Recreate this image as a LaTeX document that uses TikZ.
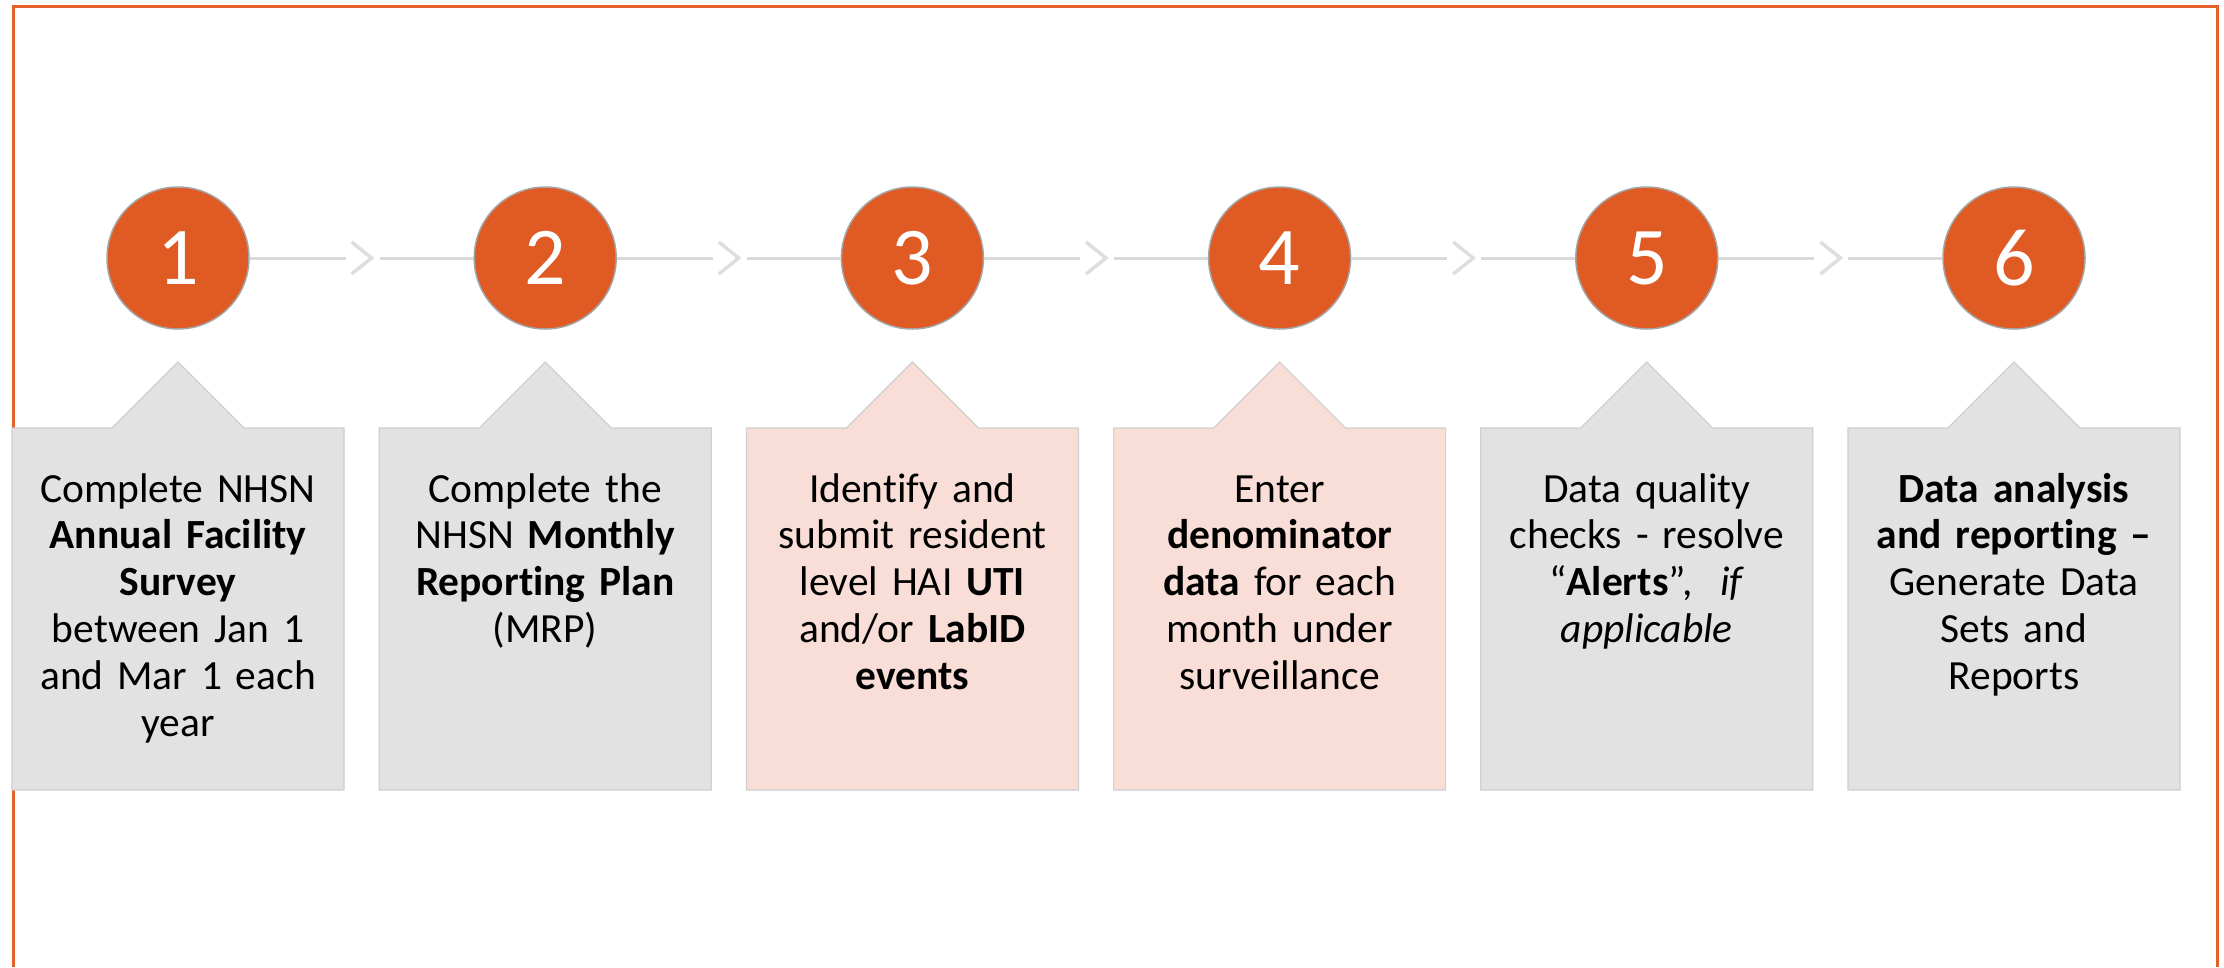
\documentclass[tikz,border=0pt]{standalone}
\usepackage{fontspec}
\setmainfont{Carlito}[Ligatures=NoCommon]
\usetikzlibrary{calc}
\definecolor{frameor}{HTML}{E3602B}
\definecolor{circor}{HTML}{E05A24}
\definecolor{circedge}{HTML}{A5A5A5}
\definecolor{boxgray}{HTML}{E2E2E2}
\definecolor{boxpink}{HTML}{F8DED6}
\definecolor{boxedge}{HTML}{CFCFCF}
\definecolor{linegray}{HTML}{D9D9D9}
\definecolor{chevgray}{HTML}{DEDEDE}
\begin{document}
\begin{tikzpicture}[x=1pt,y=-1pt,
  stepcircle/.style={circle, minimum size=142pt, inner sep=0pt, fill=circor, draw=circedge, line width=1.5pt, text=white, font=\fontsize{82}{82}\selectfont},
  steptext/.style={anchor=base, text width=320pt, align=center, inner sep=0pt, font=\fontsize{41.5}{46.8}\selectfont},
  conn/.style={draw=linegray, line width=3pt},
  chev/.style={draw=chevgray, line width=3.5pt, line join=miter},
  shapebox/.style={draw=boxedge, line width=1.2pt}
]
\useasboundingbox (0,0) rectangle (2224,967);
\draw[frameor, line width=3pt] (13,967) -- (13,6) -- (2217,6) -- (2217,967);

\foreach \i/\x/\f in {1/178/boxgray, 2/545.2/boxgray, 3/912.4/boxpink, 4/1279.6/boxpink, 5/1646.8/boxgray, 6/2014/boxgray} {
  \filldraw[shapebox, fill=\f] (\x-166,428) -- (\x-66,428) -- (\x,362) -- (\x+66,428) -- (\x+166,428) -- (\x+166,790) -- (\x-166,790) -- cycle;
  \node[stepcircle] (c\i) at (\x,258) {\i};
}

\foreach \i/\j in {1/2,2/3,3/4,4/5,5/6} {
  \coordinate (m\i) at ($(c\i)!0.5!(c\j)$);
  \coordinate (la\i) at ([xshift=-16pt]m\i);
  \coordinate (lb\i) at ([xshift=18pt]m\i);
  \draw[conn] (c\i.east) -- (la\i);
  \draw[conn] (lb\i) -- (c\j.west);
  \draw[chev] ([shift={(-10,-16)}]m\i) -- ([shift={(10,0)}]m\i) -- ([shift={(-10,16)}]m\i);
}

\node[steptext] (t1) at (178,502) {Complete NHSN\\\textbf{Annual Facility}\\\textbf{Survey}\\between Jan 1\\and Mar 1 each\\year};
\node[steptext] (t2) at (545.2,502) {Complete the\\NHSN \textbf{Monthly}\\\textbf{Reporting Plan}\\(MRP)};
\node[steptext] (t3) at (912.4,502) {Identify and\\submit resident\\level HAI \textbf{UTI}\\and/or \textbf{LabID}\\\textbf{events}};
\node[steptext] (t4) at (1279.6,502) {Enter\\\textbf{denominator}\\\textbf{data} for each\\month under\\surveillance};
\node[steptext] (t5) at (1646.8,502) {Data quality\\checks - resolve\\“\textbf{Alerts}”,\ \ \textit{if}\\\textit{applicable}};
\node[steptext] (t6) at (2014,502) {\textbf{Data analysis}\\\textbf{and reporting –}\\Generate Data\\Sets and\\Reports};
\end{tikzpicture}
\end{document}
